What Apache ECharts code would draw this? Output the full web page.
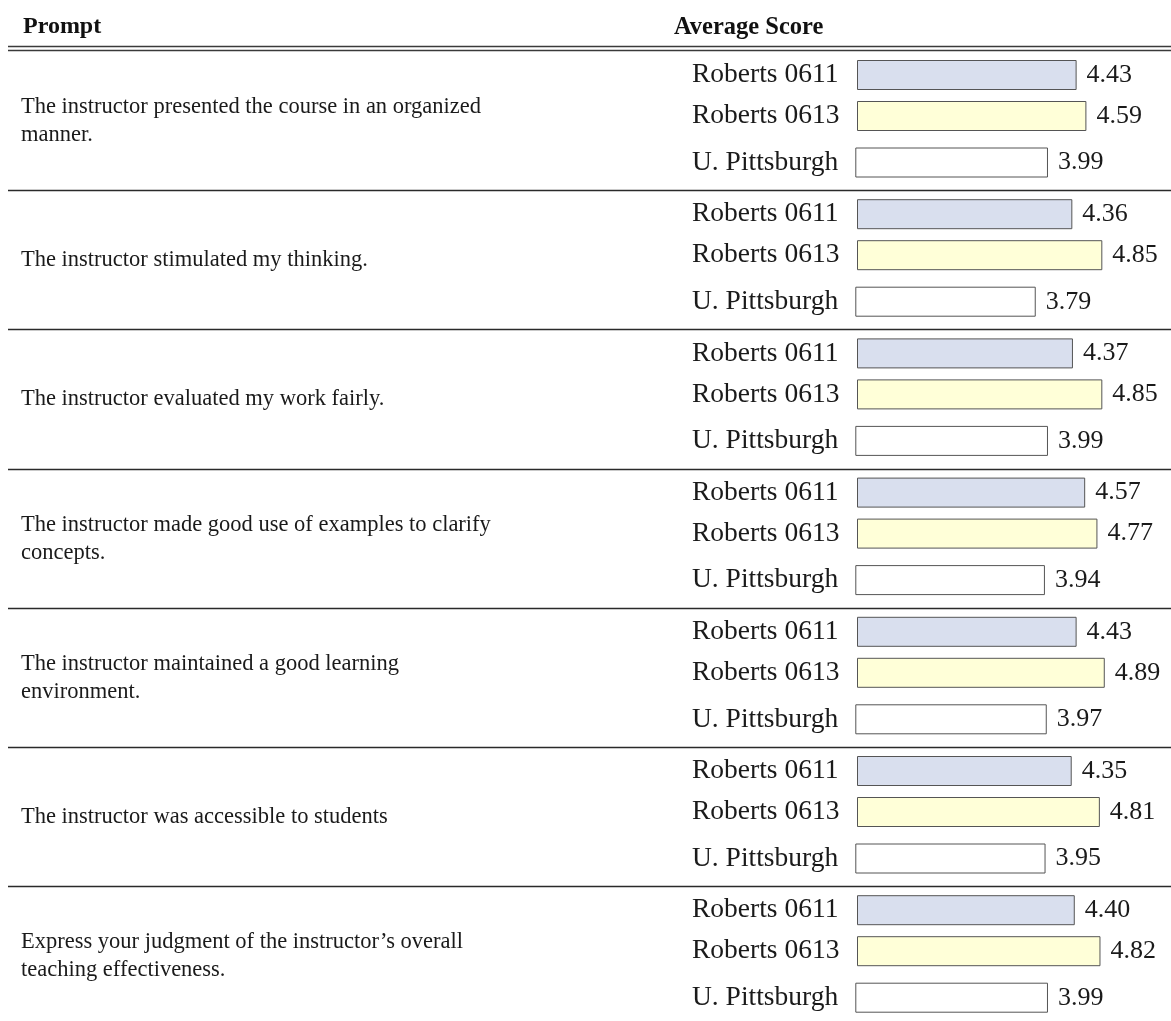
<!DOCTYPE html>
<html>
<head>
<meta charset="utf-8">
<script src="https://cdn.jsdelivr.net/npm/echarts@6/dist/echarts.min.js"></script>
<style>
  html, body { margin: 0; padding: 0; background: #fff; }
  #chart { width: 1171px; height: 1021px; }
</style>
</head>
<body>
<div id="chart"></div>
<script>
// survey prompts (line breaks as in the original table)
const prompts = [
  "The instructor presented the course in an organized\nmanner.",
  "The instructor stimulated my thinking.",
  "The instructor evaluated my work fairly.",
  "The instructor made good use of examples to clarify\nconcepts.",
  "The instructor maintained a good learning\nenvironment.",
  "The instructor was accessible to students",
  "Express your judgment of the instructor\u2019s overall\nteaching effectiveness."
];
const sources = ["Roberts 0611", "Roberts 0613", "U. Pittsburgh"];
const roberts0611 = [4.43, 4.36, 4.37, 4.57, 4.43, 4.35, 4.40];
const roberts0613 = [4.59, 4.85, 4.85, 4.77, 4.89, 4.81, 4.82];
const pittsburgh = [3.99, 3.79, 3.99, 3.94, 3.97, 3.95, 3.99];
const columnTitles = ["Prompt", "Average Score"];

const values = [roberts0611, roberts0613, pittsburgh];
const fills = ["#d9dfee", "#ffffd8", "#ffffff"];

const serif = "'Liberation Serif', 'DejaVu Serif', serif";
const groupTop = (g) => 51 + g * 139.2;
const rowOffset = [9, 50, 96.5];
const rowLeft = [857.5, 857.5, 855.8];
const labelX = 692;

const grids = [], xAxes = [], yAxes = [], series = [];
prompts.forEach((p, g) => {
  sources.forEach((src, s) => {
    const idx = grids.length;
    grids.push({ left: rowLeft[s], top: groupTop(g) + rowOffset[s], width: 254, height: 30 });
    xAxes.push({
      gridIndex: idx, type: "value", min: 0.85, max: 5,
      show: false, splitLine: { show: false }
    });
    yAxes.push({
      gridIndex: idx, type: "category", data: [src],
      axisLine: { show: false }, axisTick: { show: false },
      axisLabel: {
        align: "left", margin: rowLeft[s] - labelX, padding: [4, 0, 0, 0],
        fontFamily: serif, fontSize: 27.5, color: "#1a1a1a"
      }
    });
    series.push({
      type: "bar", xAxisIndex: idx, yAxisIndex: idx,
      data: [values[s][g]], barWidth: 30,
      itemStyle: { color: fills[s], borderColor: "#555", borderWidth: 1 },
      label: {
        show: true, position: "right", distance: 10, padding: [4, 0, 0, 0],
        formatter: (d) => d.value.toFixed(2),
        fontFamily: serif, fontSize: 26, color: "#1a1a1a"
      },
      silent: true, animation: false
    });
  });
});

const graphics = [];
const rule = (y, w, c) => graphics.push({
  type: "line", shape: { x1: 8, y1: y, x2: 1171, y2: y },
  style: { stroke: c, lineWidth: w }
});
rule(46.5, 1.4, "#3a3a3a");
rule(50.5, 1.4, "#3a3a3a");
for (let g = 1; g < prompts.length; g++) rule(Math.round(groupTop(g)) + 0.5, 1.4, "#2a2a2a");

graphics.push({
  type: "text", left: 23, top: 15,
  style: { text: columnTitles[0], fontFamily: serif, fontWeight: "bold", fontSize: 24, fill: "#111" }
});
graphics.push({
  type: "text", left: 674, top: 15,
  style: { text: columnTitles[1], fontFamily: serif, fontWeight: "bold", fontSize: 24.5, fill: "#111" }
});
prompts.forEach((p, g) => {
  graphics.push({
    type: "text", x: 21, y: groupTop(g) + 70,
    style: {
      text: p, fontFamily: serif, fontSize: 22.5, lineHeight: 28,
      fill: "#1a1a1a", verticalAlign: "middle", align: "left"
    }
  });
});

const chart = echarts.init(document.getElementById("chart"));
chart.setOption({
  animation: false,
  grid: grids,
  xAxis: xAxes,
  yAxis: yAxes,
  series: series,
  graphic: graphics
});
</script>
</body>
</html>
